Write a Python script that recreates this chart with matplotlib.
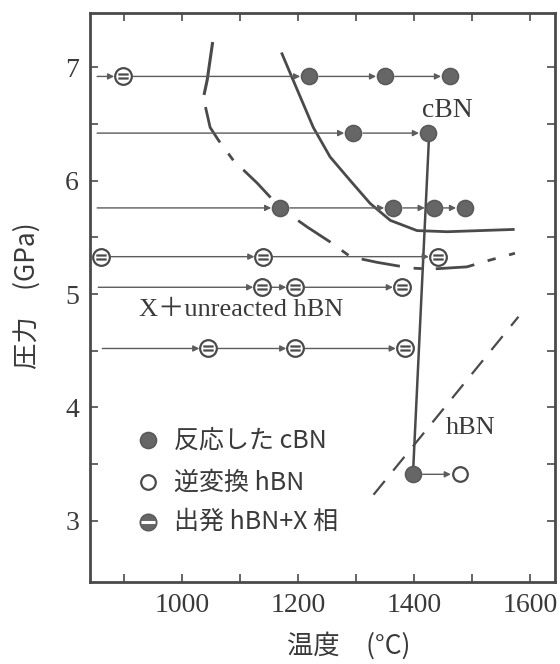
import matplotlib
matplotlib.use('Agg')
from matplotlib import pyplot as plt
from matplotlib.path import Path

# experiment rows: pressure, arrow start temperature, point temperatures, kinds
# kind: 'x' = starting hBN + X phase, 'c' = reacted cBN, 'h' = back-converted hBN
row_p = [6.92, 6.42, 5.76, 5.33, 5.06, 4.52, 3.41]
row_start = [853, 853, 853, 860, 855, 862, 1398]
row_t = [
    [898, 1219, 1350, 1462],
    [1295, 1424],
    [1169, 1364, 1434, 1488],
    [860, 1140, 1441],
    [1138, 1195, 1379],
    [1045, 1195, 1384],
    [1398, 1479],
]
row_kind = [
    ['x', 'c', 'c', 'c'],
    ['c', 'c'],
    ['c', 'c', 'c', 'c'],
    ['x', 'x', 'x'],
    ['x', 'x', 'x'],
    ['x', 'x', 'x'],
    ['c', 'h'],
]

# cBN boundary (solid)
cbn_t = [1172, 1191, 1226, 1255, 1290, 1324, 1359, 1405, 1457, 1514, 1571]
cbn_p = [7.12, 6.89, 6.47, 6.21, 6.00, 5.80, 5.65, 5.56, 5.55, 5.56, 5.57]

# X phase boundary: solid top part, then dash-dot
xs_t = [1052, 1043, 1038]
xs_p = [7.21, 6.89, 6.77]
xd_t = [1040, 1048, 1062, 1088, 1129, 1169, 1216, 1255, 1290, 1336, 1393, 1428, 1491, 1531, 1574]
xd_p = [6.65, 6.47, 6.36, 6.18, 5.98, 5.76, 5.59, 5.46, 5.33, 5.28, 5.23, 5.22, 5.24, 5.30, 5.36]

# vertical boundary
v_t = [1426, 1398]
v_p = [6.42, 3.41]

# hBN / cBN equilibrium (dashed)
eq_t = [1330, 1580]
eq_p = [3.23, 4.80]

grey = '#4a4a4a'
mgrey = '#5c5c5c'
txt = '#3a3a3a'
serif = ['Liberation Serif', 'Noto Sans CJK JP']
cjk = ['Noto Sans CJK JP', 'Liberation Serif']

# marker for starting material: circle with two bars
circ = Path.unit_circle()
bars = Path([(-0.62, 0.24), (0.62, 0.24), (-0.62, -0.24), (0.62, -0.24)],
            [Path.MOVETO, Path.LINETO, Path.MOVETO, Path.LINETO])
x_marker = Path.make_compound_path(circ, bars)
bar1 = Path([(-0.6, 0.0), (0.6, 0.0)], [Path.MOVETO, Path.LINETO])

styles = {
    'c': dict(marker='o', ms=11.5, mfc='#666666', mec='#5a5a5a', mew=1.2),
    'h': dict(marker='o', ms=10.5, mfc='white', mec=grey, mew=1.6),
    'x': dict(marker=x_marker, ms=12, mfc='white', mec=grey, mew=1.6),
}

fig = plt.figure(figsize=(5.6, 6.64), dpi=100)
ax = fig.add_axes([0.161, 0.1235, 0.83, 0.857])

ax.plot(cbn_t, cbn_p, color=grey, lw=2.0)
ax.plot(xs_t, xs_p, color=grey, lw=2.2)
ax.plot(xd_t, xd_p, color=grey, lw=2.0, dashes=(14, 5, 3, 5))
ax.plot(v_t, v_p, color=grey, lw=1.8)
ax.plot(eq_t, eq_p, color=grey, lw=1.6, dashes=(8, 6))

for p, t0, ts, ks in zip(row_p, row_start, row_t, row_kind):
    prev = t0
    for t in ts:
        if t != prev:
            sa = 7 if prev in ts else 0
            ax.annotate('', xy=(t, p), xytext=(prev, p),
                        arrowprops=dict(arrowstyle='-|>', color=mgrey, lw=1.0,
                                        mutation_scale=9, shrinkA=sa, shrinkB=6.5))
        prev = t
    for t, k in zip(ts, ks):
        ax.plot([t], [p], ls='none', zorder=5, **styles[k])

ax.text(1457, 6.62, 'cBN', fontsize=20, family=serif, color=txt, ha='center', va='center')
ax.text(925, 4.86, 'X＋unreacted hBN', fontsize=19, family=serif, color=txt, ha='left', va='center')
ax.text(1497, 3.82, 'hBN', fontsize=19, family=serif, color=txt, ha='center', va='center')

# legend drawn inside the plot
leg_p = [3.71, 3.34, 2.99]
leg_kind = ['c', 'h', 'x']
leg_text = ['反応した cBN', '逆変換 hBN', '出発 hBN+X 相']
for p, k, s in zip(leg_p, leg_kind, leg_text):
    if k == 'x':
        ax.plot([940], [p], ls='none', marker='o', ms=12, mfc='#666666', mec='#5a5a5a')
        ax.plot([940], [p], ls='none', marker=bar1, ms=10, mec='white', mew=2.2)
    else:
        ax.plot([940], [p], ls='none', **styles[k])
    ax.text(985, p, s, fontsize=18, family=cjk, color=txt, va='center')

ax.set_xlim(841, 1643)
ax.set_ylim(2.46, 7.48)
ax.set_xticks([900, 1000, 1100, 1200, 1300, 1400, 1500, 1600])
ax.set_xticklabels(['', '1000', '', '1200', '', '1400', '', '1600'])
ax.set_yticks([3, 3.5, 4, 4.5, 5, 5.5, 6, 6.5, 7])
ax.set_yticklabels(['3', '', '4', '', '5', '', '6', '', '7'])
ax.tick_params(direction='in', top=True, right=True, length=6, width=1.2,
               colors=grey, labelsize=20, labelcolor=txt, pad=8)
for lab in ax.get_xticklabels() + ax.get_yticklabels():
    lab.set_family(serif)
for sp in ax.spines.values():
    sp.set_linewidth(2.0)
    sp.set_color(grey)

ax.set_xlabel('温度　(°C)', fontsize=19, family=cjk, color=txt)
ax.xaxis.set_label_coords(0.557, -0.088)
ax.set_ylabel('圧力　(GPa)', fontsize=19, family=cjk, color=txt)
ax.yaxis.set_label_coords(-0.107, 0.504)

fig.savefig('out.png', dpi=100)
